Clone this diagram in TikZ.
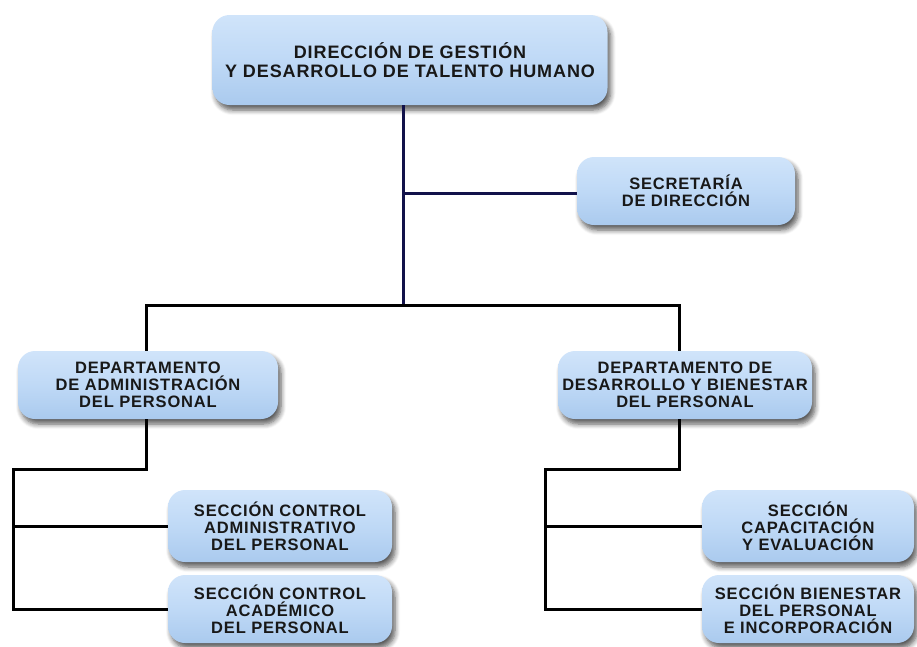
\documentclass[tikz,border=0pt]{standalone}
\usepackage{fontspec}
\setmainfont{Liberation Sans}
\newfontfamily\boxfont[LetterSpace=5]{Liberation Sans}
\usetikzlibrary{shadows.blur}
\definecolor{boxtop}{HTML}{D0E4FA}
\definecolor{boxmid}{HTML}{BFD9F6}
\definecolor{boxbot}{HTML}{AACAEE}
\definecolor{txt}{HTML}{181818}
\definecolor{navy}{HTML}{12124A}
\begin{document}
\begin{tikzpicture}[x=1pt,y=-1pt,
  unit/.style={rounded corners=17pt, top color=boxtop, bottom color=boxbot,
    middle color=boxmid, draw=none, align=center, text=txt,
    font=\boxfont\bfseries\fontsize{16.5}{16.8}\selectfont, inner sep=0pt,
    blur shadow={shadow xshift=3pt, shadow yshift=-5pt, shadow blur radius=5pt,
      shadow blur steps=6, shadow opacity=65}},
  link/.style={line width=3pt, draw=black},
  toplink/.style={line width=3pt, draw=navy}]
\useasboundingbox (0,0) rectangle (917,646);

% boxes
\node[unit, minimum width=395pt, minimum height=90pt,
  font=\boxfont\bfseries\fontsize{18}{18.5}\selectfont] (dir) at (410,60)
  {DIRECCIÓN DE GESTIÓN\\Y DESARROLLO DE TALENTO HUMANO};
\node[unit, minimum width=218pt, minimum height=68pt] (sec) at (686,191)
  {SECRETARÍA\\DE DIRECCIÓN};
\node[unit, minimum width=260pt, minimum height=68pt] (depA) at (148,385)
  {DEPARTAMENTO\\DE ADMINISTRACIÓN\\DEL PERSONAL};
\node[unit, minimum width=254pt, minimum height=68pt] (depB) at (685,385)
  {DEPARTAMENTO DE\\DESARROLLO Y BIENESTAR\\DEL PERSONAL};
\node[unit, minimum width=224pt, minimum height=72pt] (sA1) at (280,526)
  {SECCIÓN CONTROL\\ADMINISTRATIVO\\DEL PERSONAL};
\node[unit, minimum width=224pt, minimum height=68pt] (sA2) at (280,609)
  {SECCIÓN CONTROL\\ACADÉMICO\\DEL PERSONAL};
\node[unit, minimum width=212pt, minimum height=72pt] (sB1) at (808,526)
  {SECCIÓN\\CAPACITACIÓN\\Y EVALUACIÓN};
\node[unit, minimum width=212pt, minimum height=68pt] (sB2) at (808,609)
  {SECCIÓN BIENESTAR\\DEL PERSONAL\\E INCORPORACIÓN};

% junction points
\coordinate (hub) at (403,305);
\coordinate (secj) at (403,193);
\coordinate (aL) at (146,305);
\coordinate (bR) at (679,305);
\coordinate (aj) at (146,469);
\coordinate (ab) at (13,469);
\coordinate (bj) at (679,469);
\coordinate (bb) at (545,469);

% connectors
\draw[toplink] (dir.south -| hub) -- (hub);
\draw[toplink] (secj) -- (sec.west |- secj);
\draw[link] (hub) -- (aL) -- (depA.north -| aL);
\draw[link] (hub) -- (bR) -- (depB.north -| bR);
\draw[link] (depA.south -| aj) -- (aj) -- (ab) -- (ab |- sA2.west) -- (sA2.west);
\draw[link] (ab |- sA1.west) -- (sA1.west);
\draw[link] (depB.south -| bj) -- (bj) -- (bb) -- (bb |- sB2.west) -- (sB2.west);
\draw[link] (bb |- sB1.west) -- (sB1.west);
\end{tikzpicture}
\end{document}
